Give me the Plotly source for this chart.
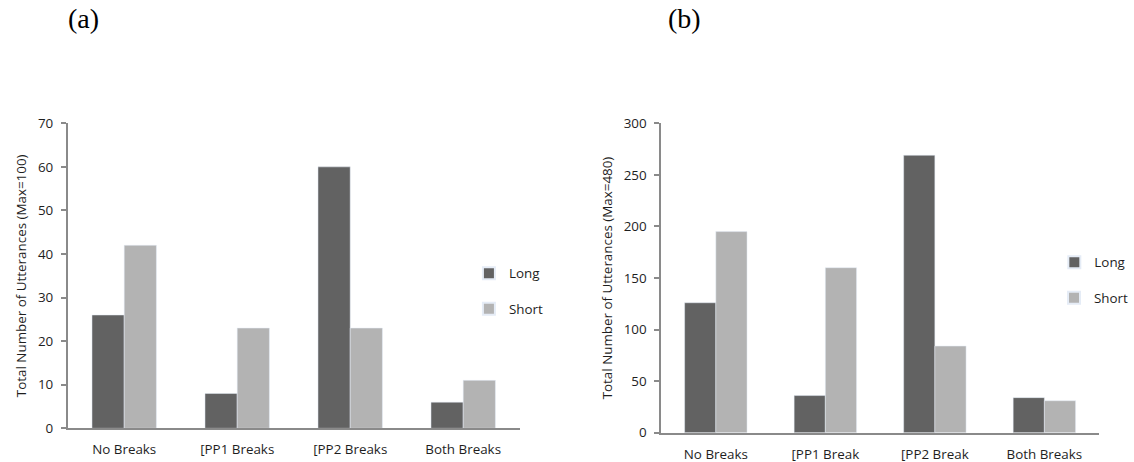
import plotly.graph_objects as go

W, H = 1134, 462

cats_a = ["No Breaks", "[PP1 Breaks", "[PP2 Breaks", "Both Breaks"]
long_a = [26, 8, 60, 6]
short_a = [42, 23, 23, 11]

cats_b = ["No Breaks", "[PP1 Break", "[PP2 Break", "Both Breaks"]
long_b = [126, 36, 269, 34]
short_b = [195, 160, 84, 31]

yticks_a = [0, 10, 20, 30, 40, 50, 60, 70]
yticks_b = [0, 50, 100, 150, 200, 250, 300]

DARK = "#626262"
LIGHT = "#b3b3b3"
AXIS = "#8a8a8a"
TXT = "#1e1e1e"
FONT = "Open Sans"
FS = 13.4


def px_x(x):
    return x / W


def px_y(y):
    return (H - y) / H


fig = go.Figure()
fig.add_trace(go.Bar(x=cats_a, y=long_a, name="Long", marker_color=DARK,
                     xaxis="x", yaxis="y", legend="legend"))
fig.add_trace(go.Bar(x=cats_a, y=short_a, name="Short", marker_color=LIGHT,
                     xaxis="x", yaxis="y", legend="legend2"))
fig.add_trace(go.Bar(x=cats_b, y=long_b, name="Long", marker_color=DARK,
                     xaxis="x2", yaxis="y2", legend="legend3"))
fig.add_trace(go.Bar(x=cats_b, y=short_b, name="Short", marker_color=LIGHT,
                     xaxis="x2", yaxis="y2", legend="legend4"))

xcommon = dict(showline=True, linecolor=AXIS, linewidth=1.5, ticks="",
               showgrid=False, zeroline=False, type="category",
               automargin=False,
               tickfont=dict(family=FONT, size=FS, color=TXT),
               ticklabelstandoff=8)
ycommon = dict(showline=True, linecolor=AXIS, linewidth=1.5, ticks="outside",
               ticklen=5, tickcolor=AXIS, tickwidth=1.5, showgrid=False,
               zeroline=False, automargin=False,
               tickfont=dict(family=FONT, size=FS, color=TXT),
               ticklabelstandoff=5)

fig.update_layout(
    width=W, height=H,
    margin=dict(l=0, r=0, t=0, b=0),
    paper_bgcolor="white", plot_bgcolor="white",
    barmode="group", bargap=0.43, bargroupgap=0,
    xaxis=dict(domain=[px_x(68), px_x(522)], anchor="y", **xcommon),
    yaxis=dict(domain=[px_y(428.3), px_y(123.3)], anchor="x",
               range=[0, 70], tickvals=yticks_a,
               title=dict(text="Total Number of Utterances (Max=100)",
                          font=dict(family=FONT, size=FS, color=TXT),
                          standoff=8),
               **ycommon),
    xaxis2=dict(domain=[px_x(664), px_x(1104)], anchor="y2", **xcommon),
    yaxis2=dict(domain=[px_y(432.7), px_y(123.3)], anchor="x2",
                range=[0, 300], tickvals=yticks_b,
                title=dict(text="Total Number of Utterances (Max=480)",
                           font=dict(family=FONT, size=FS, color=TXT),
                           standoff=8),
                **ycommon),
    showlegend=True,
)

leg_common = dict(xanchor="left", yanchor="middle", bgcolor="rgba(0,0,0,0)",
                  font=dict(family=FONT, size=FS, color=TXT),
                  itemsizing="constant")
fig.update_layout(
    legend=dict(x=px_x(471), y=px_y(273.5), **leg_common),
    legend2=dict(x=px_x(471), y=px_y(309), **leg_common),
    legend3=dict(x=px_x(1059), y=px_y(262.5), **leg_common),
    legend4=dict(x=px_x(1059), y=px_y(298), **leg_common),
)

fig.add_annotation(text="(a)", x=px_x(84), y=px_y(18), xref="paper", yref="paper",
                   showarrow=False, xanchor="center", yanchor="middle",
                   font=dict(family="Liberation Serif", size=28, color="#000"))
fig.add_annotation(text="(b)", x=px_x(688), y=px_y(18), xref="paper", yref="paper",
                   showarrow=False, xanchor="center", yanchor="middle",
                   font=dict(family="Liberation Serif", size=28, color="#000"))

fig.write_html("out.html")
